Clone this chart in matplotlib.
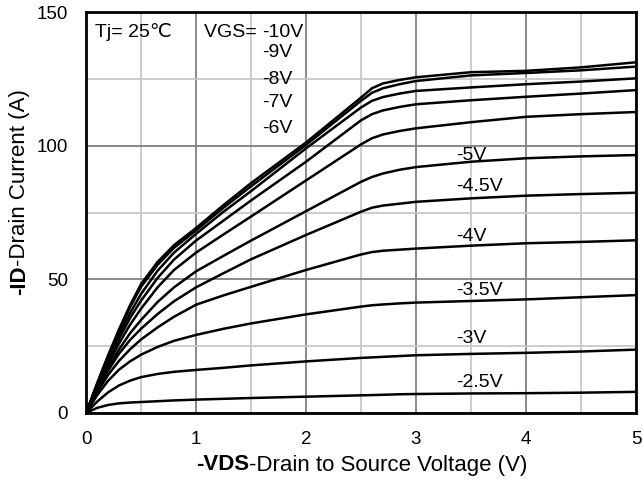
import numpy as np
import matplotlib
matplotlib.use("Agg")
import matplotlib.pyplot as plt
from matplotlib.ticker import MultipleLocator

plt.rcParams['font.family'] = ['Liberation Sans', 'DejaVu Sans']

# --- datos ---
vds = [0, 0.1, 0.2, 0.3, 0.4, 0.5, 0.65, 0.8, 1.0, 1.25, 1.5, 2.0, 2.5, 2.6, 2.7, 2.85,
       3.0, 3.5, 4.0, 4.5, 5.0]

id_10 = [0, 11, 21.5, 31.3, 40.3, 48.2, 56.5, 62.8, 69.2, 77.8, 86, 101.2, 118, 121.5,
         123.3, 124.6, 125.6, 127.5, 128.0, 129.3, 131.2]
id_9 = [0, 10.8, 21.1, 30.7, 39.5, 47.2, 55.4, 61.8, 68.3, 76.8, 84.8, 100.3, 116.8, 119.8,
        121.5, 123.0, 124.2, 126.3, 127.2, 128.2, 129.6]
id_8 = [0, 10.5, 20.3, 29.3, 37.3, 44.5, 53.2, 60, 67, 75.3, 83, 99, 114.3, 116.8,
        118.2, 119.5, 120.5, 121.8, 123, 124, 125.2]
id_7 = [0, 10, 19.3, 27.8, 35.5, 42, 50.5, 57.4, 64.5, 72, 79.5, 94, 109.5, 111.8,
        113.2, 114.5, 115.5, 117, 118.3, 119.5, 120.8]
id_6 = [0, 9.5, 18.2, 26, 33, 39, 47, 53.5, 60, 66.8, 73.5, 87, 100.5, 102.8,
        104.2, 105.5, 106.5, 108.8, 110.8, 111.8, 112.6]
id_5 = [0, 8.8, 16.8, 23.8, 29.8, 34.8, 41.5, 47, 53, 58.8, 64.5, 75.5, 86.5, 88.3,
        89.6, 91.0, 92.0, 94.0, 95.3, 96.0, 96.5]
id_45 = [0, 8.3, 15.8, 22.2, 27.3, 31.5, 37, 41.8, 47, 52.3, 57.5, 66.6, 75.3, 76.8,
         77.6, 78.3, 79.0, 80.3, 81.3, 81.9, 82.4]
id_4 = [0, 7.6, 14.2, 19.5, 23.8, 27.5, 32, 36, 40.5, 44, 47.2, 53.5, 59.3, 60.2,
        60.7, 61.1, 61.5, 62.6, 63.5, 64.0, 64.6]
id_35 = [0, 6.6, 12, 16.2, 19.3, 21.8, 24.7, 27, 29.2, 31.5, 33.5, 36.9, 39.8, 40.3,
         40.6, 41.0, 41.3, 41.9, 42.5, 43.3, 44.1]
id_3 = [0, 4.2, 7.7, 10.3, 12.1, 13.4, 14.6, 15.4, 16.1, 16.9, 17.8, 19.3, 20.6, 20.8,
        21.0, 21.3, 21.6, 22.1, 22.5, 23.0, 23.7]
id_25 = [0, 1.9, 3.0, 3.6, 3.9, 4.1, 4.4, 4.7, 5.0, 5.3, 5.6, 6.1, 6.6, 6.7,
         6.8, 7.0, 7.1, 7.3, 7.4, 7.6, 7.9]

curvas = [id_10, id_9, id_8, id_7, id_6, id_5, id_45, id_4, id_35, id_3, id_25]

etiquetas_bajas = ['-5V', '-4.5V', '-4V', '-3.5V', '-3V', '-2.5V']
y_bajas = [96.5, 84.7, 66.2, 45.8, 27.9, 11.3]
etiquetas_altas = ['-9V', '-8V', '-7V', '-6V']
y_altas = [134.7, 124.6, 116.0, 106.6]

# --- figura ---
fig = plt.figure(figsize=(6.42, 4.82), dpi=100)
W, H = 642, 482
ax = fig.add_axes([0.134, 0.1432, 0.8567, 0.8318])

for c in curvas:
    ax.plot(vds, c, color='black', lw=1.8, zorder=3, solid_joinstyle='round')

ax.set_xlim(0, 5)
ax.set_ylim(0, 150)
ax.xaxis.set_major_locator(MultipleLocator(1))
ax.xaxis.set_minor_locator(MultipleLocator(0.5))
ax.yaxis.set_major_locator(MultipleLocator(50))
ax.yaxis.set_minor_locator(MultipleLocator(25))
ax.grid(True, which='major', color='#808080', lw=1.3)
ax.grid(True, which='minor', color='#c8c8c8', lw=1.3)
ax.tick_params(which='both', length=0, labelsize=13.5)
ax.tick_params(axis='x', pad=13)
ax.tick_params(axis='y', pad=13)
for s in ax.spines.values():
    s.set_linewidth(2)
    s.set_color('black')
    s.set_zorder(4)

fs_txt = 14
ax.text(0.08, 142.5, 'Tj= 25\u2103', fontsize=fs_txt, va='center', ha='left')
ax.text(1.6, 142.5, 'VGS= ', fontsize=fs_txt, va='center', ha='right')
ax.text(1.6, 142.5, '-10V', fontsize=fs_txt, va='center', ha='left')
for t, y in zip(etiquetas_altas, y_altas):
    ax.text(1.6, y, t, fontsize=fs_txt, va='center', ha='left')
for t, y in zip(etiquetas_bajas, y_bajas):
    ax.text(3.36, y, t, fontsize=fs_txt, va='center', ha='left')

# --- etiquetas de ejes (parte en negrita) ---
fig.canvas.draw()
r = fig.canvas.get_renderer()

# eje x
xb = fig.text(0, 0, '-VDS', fontsize=16, weight='bold')
xn = fig.text(0, 0, '-Drain to Source Voltage (V)', fontsize=16)
wb = xb.get_window_extent(r).width
wn = xn.get_window_extent(r).width
x0 = 362 - (wb + wn) / 2
yx = 1 - 465 / H
xb.set_position((x0 / W, yx))
xn.set_position(((x0 + wb) / W, yx))
xb.set_va('center'); xn.set_va('center')

# eje y
yb = fig.text(0, 0, '-ID', fontsize=16, weight='bold', rotation=90)
yn = fig.text(0, 0, '-Drain Current (A)', fontsize=16, rotation=90)
hb = yb.get_window_extent(r).height
hn = yn.get_window_extent(r).height
y0 = (H - 295)
xy = 20 / W
yb.set_position((xy, y0 / H))
yn.set_position((xy, (y0 + hb) / H))
for t in (yb, yn):
    t.set_ha('center'); t.set_va('bottom')

plt.savefig('out.png', dpi=100)
